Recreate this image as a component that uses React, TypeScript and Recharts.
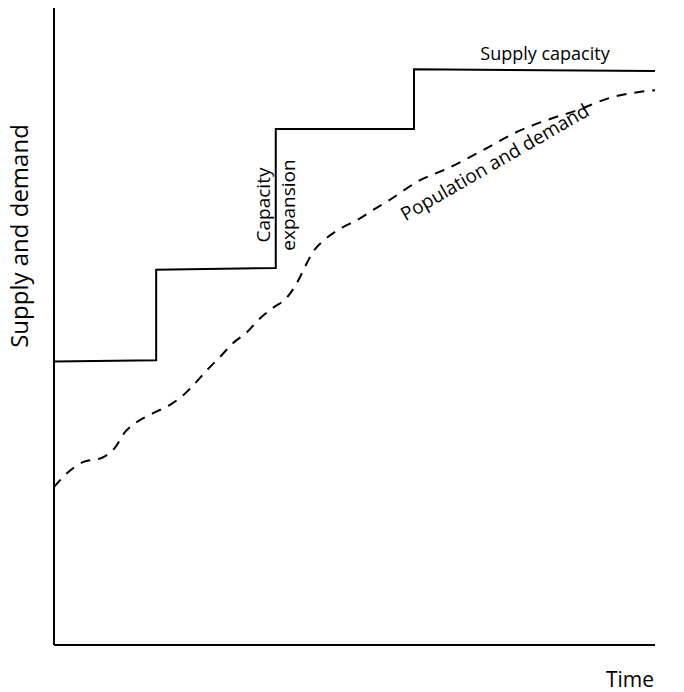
import { Line, LineChart, XAxis, YAxis } from 'recharts'

// time runs 0..100 across the plot, supply/demand 0..100 up the plot
const supplyTime = [0, 17, 17, 36.9, 36.9, 59.9, 59.9, 100]
const supplyLevel = [44.5, 44.7, 58.9, 59.2, 81, 81, 90.4, 90.1]

const demandTime = [
  0, 2.2, 4.8, 8, 10.1, 11.8, 13.8, 16.5, 19.3, 21.5, 23.5, 25.5, 27.6, 29.8, 32.1, 34.3,
  36.4, 38.8, 40.4, 42.1, 43.1, 45.4, 47.9, 50.4, 53.1, 55.9, 60.4, 65.9, 71.4, 76.7, 82,
  87.2, 92.5, 100,
]
const demandLevel = [
  24.8, 27, 28.7, 29.4, 30.9, 33.4, 35, 36.4, 37.7, 39.2, 41.1, 43.2, 45.2, 47.4, 49.1, 51.3,
  52.9, 54.6, 56.8, 60, 61.7, 63.9, 65.5, 66.7, 68.3, 69.9, 72.7, 75, 77.7, 80.4, 82.4,
  84, 85.9, 87.1,
]

const supply = supplyTime.map((t, i) => ({ t, v: supplyLevel[i] }))
const demand = demandTime.map((t, i) => ({ t, v: demandLevel[i] }))

const W = 684
const H = 692
const font = '"Open Sans", "Noto Sans", sans-serif'

export default function App() {
  return (
    <div style={{ position: 'absolute', left: 0, top: 0, width: W, height: H, background: '#fff' }}>
      <LineChart width={W} height={H} margin={{ top: 8, right: 29, bottom: 46, left: 53 }}>
        <XAxis
          type="number"
          dataKey="t"
          domain={[0, 100]}
          height={1}
          tick={false}
          tickLine={false}
          axisLine={{ stroke: '#000', strokeWidth: 2 }}
        />
        <YAxis
          type="number"
          dataKey="v"
          domain={[0, 100]}
          width={1}
          tick={false}
          tickLine={false}
          axisLine={{ stroke: '#000', strokeWidth: 2 }}
        />
        <Line
          data={supply}
          dataKey="v"
          type="linear"
          stroke="#000"
          strokeWidth={2}
          dot={false}
          isAnimationActive={false}
        />
        <Line
          data={demand}
          dataKey="v"
          type="monotone"
          stroke="#000"
          strokeWidth={2}
          strokeDasharray="10 8"
          dot={false}
          isAnimationActive={false}
        />
      </LineChart>
      <svg
        width={W}
        height={H}
        style={{ position: 'absolute', left: 0, top: 0, pointerEvents: 'none' }}
        fontFamily={font}
        fill="#000"
      >
        <text x={18} y={236} fontSize={24} textAnchor="middle" dominantBaseline="central" transform="rotate(-90 18 236)">
          Supply and demand
        </text>
        <text x={630} y={687} fontSize={21} textAnchor="middle">
          Time
        </text>
        <text x={545} y={60} fontSize={18} textAnchor="middle">
          Supply capacity
        </text>
        <text x={263} y={205} fontSize={19} textAnchor="middle" dominantBaseline="central" transform="rotate(-90 263 205)">
          Capacity
        </text>
        <text x={288} y={205} fontSize={19} textAnchor="middle" dominantBaseline="central" transform="rotate(-90 288 205)">
          expansion
        </text>
        <text x={498} y={168} fontSize={19} textAnchor="middle" transform="rotate(-30 498 168)">
          Population and demand
        </text>
      </svg>
    </div>
  )
}
